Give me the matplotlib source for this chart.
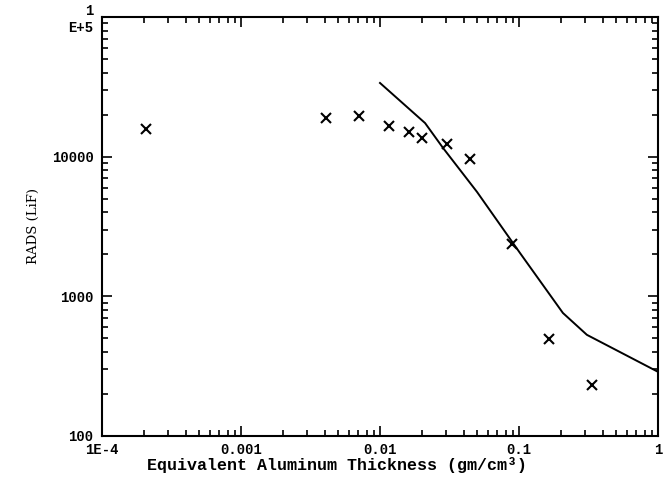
import matplotlib
matplotlib.use("Agg")
import matplotlib.pyplot as plt
from matplotlib.ticker import FixedLocator, FixedFormatter, LogLocator, NullFormatter

# measured points (crosses)
meas_x = [2.07e-4, 0.00409, 0.00706, 0.0116, 0.0162, 0.020, 0.0303, 0.0443, 0.0891, 0.164, 0.335]
meas_y = [15800, 18900, 19600, 16600, 15000, 13600, 12300, 9630, 2370, 495, 232]

# calculated curve
calc_x = [0.01, 0.0211, 0.0284, 0.0499, 0.1016, 0.207, 0.308, 1.0]
calc_y = [33700, 17400, 11550, 5590, 2045, 760, 530, 288]

x_ticks = [1e-4, 1e-3, 1e-2, 1e-1, 1]
x_labels = ["1E-4", "0.001", "0.01", "0.1", "1"]
y_ticks = [100, 1000, 10000, 100000]
y_labels = ["100", "1000", "10000", "1\nE+5"]

plt.rcParams['font.family'] = ['Liberation Mono', 'DejaVu Sans Mono']

fig = plt.figure(figsize=(6.68, 4.84), dpi=100)
ax = fig.add_axes([0.1527, 0.0992, 0.8323, 0.8657])

ax.plot(calc_x, calc_y, color='black', lw=1.4)
ax.plot(meas_x, meas_y, ls='none', marker='x', ms=7, mew=1.5, color='black')

ax.set_xscale('log')
ax.set_yscale('log')
ax.set_xlim(1e-4, 1)
ax.set_ylim(100, 1e5)

ax.xaxis.set_major_locator(FixedLocator(x_ticks))
ax.xaxis.set_major_formatter(FixedFormatter(x_labels))
ax.yaxis.set_major_locator(FixedLocator(y_ticks))
ax.yaxis.set_major_formatter(FixedFormatter(y_labels))
ax.xaxis.set_minor_locator(LogLocator(base=10, subs=range(2, 10)))
ax.yaxis.set_minor_locator(LogLocator(base=10, subs=range(2, 10)))
ax.xaxis.set_minor_formatter(NullFormatter())
ax.yaxis.set_minor_formatter(NullFormatter())

ax.tick_params(which='both', direction='in', top=True, right=True, width=1.2, labelsize=10)
ax.tick_params(which='major', length=7)
ax.tick_params(which='minor', length=4)
ax.tick_params(axis='x', which='major', pad=5)
ax.tick_params(axis='y', which='major', pad=6)
for lab in ax.get_yticklabels() + ax.get_xticklabels():
    lab.set_fontweight('bold')
for lab in ax.get_yticklabels():
    lab.set_multialignment('right')
for s in ax.spines.values():
    s.set_linewidth(1.5)

ax.set_xlabel("Equivalent Aluminum Thickness (gm/cm³)", fontsize=12,
              fontweight='bold', va='top')
ax.xaxis.set_label_coords(0.423, -0.05)
ax.set_ylabel("RADS (LiF)", fontsize=9.5, family='DejaVu Serif', va='center')
ax.yaxis.set_label_coords(-0.124, 0.5)

fig.savefig("out.png", dpi=100)
